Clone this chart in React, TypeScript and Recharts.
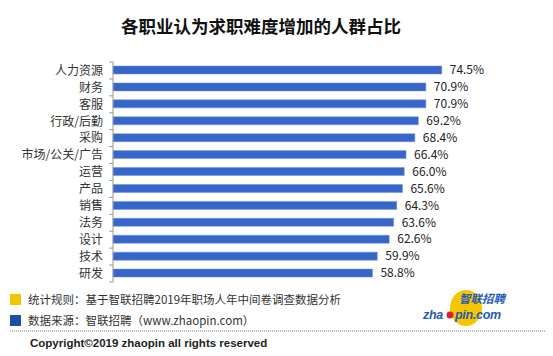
import { BarChart, Bar, XAxis, YAxis, LabelList } from 'recharts';

const categories = ['人力资源', '财务', '客服', '行政/后勤', '采购', '市场/公关/广告', '运营', '产品', '销售', '法务', '设计', '技术', '研发'];
const shares = [74.5, 70.9, 70.9, 69.2, 68.4, 66.4, 66.0, 65.6, 64.3, 63.6, 62.6, 59.9, 58.8];

const data = categories.map((name, i) => ({ name, value: shares[i] }));

const FONT = '"Noto Sans CJK SC", "Noto Sans", sans-serif';
const LATIN = '"Liberation Sans", Arial, sans-serif';
const BAND = (282 - 62) / categories.length;

// category label plus the small tick at the band boundary
// eslint-disable-next-line @typescript-eslint/no-explicit-any
const CategoryTick = (props: any) => {
    const { x, y, payload, index } = props;
    return (
        <g>
            <line x1={x + 4} x2={x + 8} y1={y - BAND / 2} y2={y - BAND / 2} stroke="#999" />
            {index === categories.length - 1 && (
                <line x1={x + 4} x2={x + 8} y1={y + BAND / 2} y2={y + BAND / 2} stroke="#999" />
            )}
            <text x={x - 2} y={y} dy={4.3} textAnchor="end" fontSize={12} fill="#333" fontFamily={FONT}>
                {payload.value}
            </text>
        </g>
    );
};

export default function App() {
    return (
        <div style={{ position: 'absolute', left: 0, top: 0, width: 553, height: 356, background: '#fff', fontFamily: FONT }}>
            <BarChart
                width={553}
                height={356}
                data={data}
                layout="vertical"
                margin={{ top: 62, right: 87, bottom: 74, left: 0 }}
                barCategoryGap={0}
            >
                <XAxis type="number" domain={[0, 80]} hide />
                <YAxis
                    type="category"
                    dataKey="name"
                    width={113}
                    axisLine={{ stroke: '#999' }}
                    tickLine={false}
                    tick={<CategoryTick />}
                    interval={0}
                />
                <Bar dataKey="value" fill="#3766c9" stroke="#6f8fd8" strokeWidth={0.5} barSize={8} isAnimationActive={false}>
                    <LabelList
                        dataKey="value"
                        position="right"
                        offset={8}
                        fill="#222"
                        fontSize={12}
                        fontFamily={FONT}
                        formatter={(v: number) => `${v.toFixed(1)}%`}
                    />
                </Bar>
            </BarChart>

            <svg width={553} height={356} style={{ position: 'absolute', left: 0, top: 0, pointerEvents: 'none' }}>
                <text x={261} y={33} textAnchor="middle" fontSize={17.5} fontWeight="bold" fill="#111" fontFamily={FONT}>
                    各职业认为求职难度增加的人群占比
                </text>

                <rect x={10} y={294} width={11} height={11} fill="#f5c400" />
                <text x={28} y={304} fontSize={11.5} fill="#333" fontFamily={FONT}>
                    统计规则：基于智联招聘2019年职场人年中间卷调查数据分析
                </text>
                <rect x={10} y={315} width={11} height={11} fill="#1d4fa8" />
                <text x={28} y={325} fontSize={11.5} fill="#333" fontFamily={FONT}>
                    数据来源：智联招聘（www.zhaopin.com）
                </text>
                <line x1={10} x2={545} y1={331} y2={331} stroke="#777" strokeDasharray="1 1" />
                <text x={30} y={347} fontSize={11.5} fontWeight="bold" fill="#222" fontFamily={LATIN}>
                    Copyright©2019 zhaopin all rights reserved
                </text>

                {/* logo */}
                <ellipse cx={466} cy={308} rx={16} ry={18} fill="#f7c600" />
                <text x={459} y={303} fontSize={11.5} fontWeight="bold" fontStyle="italic" fill="#1f5bb5" fontFamily={FONT}>
                    智联招聘
                </text>
                <text x={423} y={319} fontSize={12.5} fontWeight="bold" fontStyle="italic" fill="#1f5bb5" fontFamily={LATIN} letterSpacing={-0.3}>
                    zha
                </text>
                <circle cx={450} cy={315} r={3.5} fill="#d8232a" />
                <text x={455} y={319} fontSize={12.5} fontWeight="bold" fontStyle="italic" fill="#1f5bb5" fontFamily={LATIN} letterSpacing={-0.3}>
                    pin.com
                </text>
            </svg>
        </div>
    );
}
